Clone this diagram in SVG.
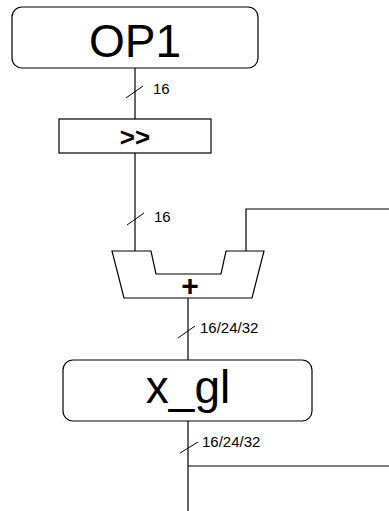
<svg xmlns="http://www.w3.org/2000/svg" width="389" height="511" viewBox="0 0 389 511">
  <style>
    .box { fill: #fff; stroke: #000; stroke-width: 1.2; }
    .wire { fill: none; stroke: #000; stroke-width: 1.2; }
    .tick { fill: none; stroke: #000; stroke-width: 1; }
    .big { font-family: "Liberation Sans", Arial, sans-serif; font-size: 46px; text-anchor: middle; }
    .lbl { font-family: "Liberation Sans", Arial, sans-serif; font-size: 15px; }
    .op { font-family: "Liberation Sans", Arial, sans-serif; text-anchor: middle; font-weight: bold; }
  </style>
  <rect width="389" height="511" fill="#fff"/>
  <g id="connectors">
    <line class="wire" x1="135" y1="68" x2="135" y2="119"/>
    <line class="wire" x1="135" y1="153" x2="135" y2="251"/>
    <polyline class="wire" points="246,251 246,209 389,209"/>
    <line class="wire" x1="188" y1="298" x2="188" y2="360"/>
    <line class="wire" x1="188" y1="421" x2="188" y2="511"/>
    <line class="wire" x1="188" y1="466" x2="389" y2="466"/>
    <!-- bus width ticks -->
    <line class="tick" x1="126" y1="98" x2="143" y2="86"/>
    <text class="lbl" x="153" y="94">16</text>
    <line class="tick" x1="127" y1="225" x2="144" y2="213"/>
    <text class="lbl" x="154" y="222">16</text>
    <line class="tick" x1="178" y1="338" x2="195" y2="326"/>
    <text class="lbl" x="200" y="333">16/24/32</text>
    <line class="tick" x1="180" y1="453" x2="198" y2="442"/>
    <text class="lbl" x="202" y="447">16/24/32</text>
  </g>
  <g id="op1">
    <rect class="box" x="12" y="7" width="246" height="61" rx="10" ry="10"/>
    <text class="big" x="135" y="57">OP1</text>
  </g>
  <g id="shift">
    <rect class="box" x="59" y="119" width="152" height="34"/>
    <text class="op" x="135" y="146" font-size="26">&gt;&gt;</text>
  </g>
  <g id="adder">
    <polygon class="box" points="112,251 151,251 156,274 221,274 226,251 264,251 252,298 124,298"/>
    <text class="op" x="190" y="296" font-size="30">+</text>
  </g>
  <g id="x_gl">
    <rect class="box" x="63" y="360" width="249" height="61" rx="10" ry="10"/>
    <text class="big" x="188" y="403">x_gl</text>
  </g>
</svg>
